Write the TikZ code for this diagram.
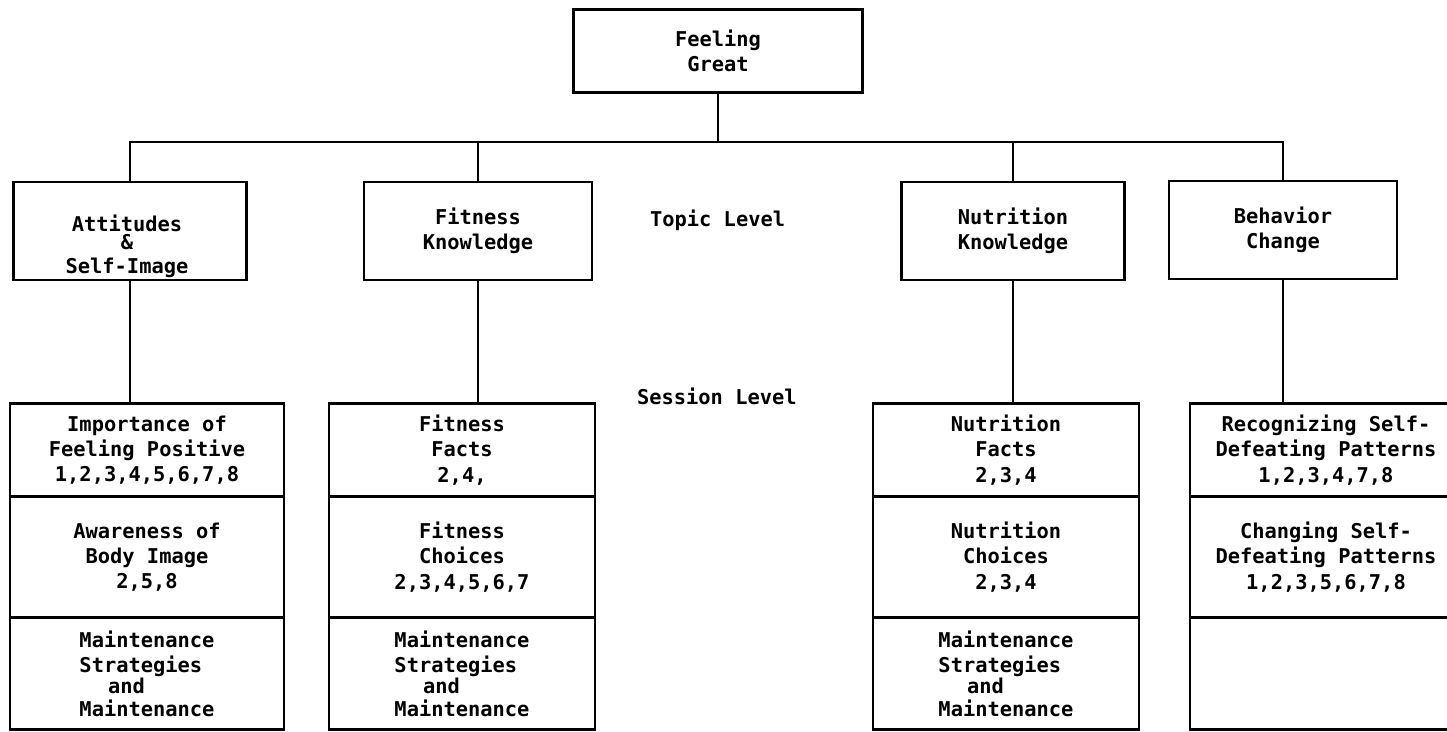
\documentclass[tikz,border=0pt]{standalone}
\usepackage{fontspec}
\setmonofont{DejaVu Sans Mono}
\usetikzlibrary{positioning}
\tikzset{every picture/.style={/utils/exec={\ttfamily\bfseries\fontsize{14.5}{18}\selectfont}}}
\tikzset{x=0.025cm, y=-0.025cm, % one unit is one pixel of the scan
  node distance=0pt,
  every node/.style={align=center},
  boxed/.style 2 args={draw, line width=1.8pt, outer sep=0pt, inner sep=2pt,
    minimum width=#1*0.025cm, minimum height=#2*0.025cm},
  link/.style={line width=1.8pt}}

\begin{document}
\begin{tikzpicture}
  \useasboundingbox (0,0) rectangle (1447,731);
  \clip (0,0) rectangle (1447,731);

  \node [boxed={289}{83}] (feel) at (718,51) {Feeling\\Great};

  % topic level
  \node [boxed={233}{98}] (att) at (130,231) {};
  \node (attText) at (127,246) {Attitudes\\[-5pt]\&\\[-1pt]Self-Image};
  \node [boxed={228}{98}] (fit) at (478,231) {Fitness\\Knowledge};
  \node [boxed={223}{98}] (nut) at (1013,231) {Nutrition\\Knowledge};
  \node [boxed={228}{98}] (beh) at (1283,230) {Behavior\\Change};
  \node [anchor=west] (topic) at (643,220) {Topic Level};

  % session level
  \node [anchor=west] (session) at (630,396) {Session Level};

  \node [boxed={274}{93}] (attA) at (147,450) {Importance of\\Feeling Positive\\1,2,3,4,5,6,7,8};
  \node [boxed={274}{121}, below=of attA] (attB) {Awareness of\\Body Image\\2,5,8};
  \node [boxed={274}{112}, below=of attB, align=left] (attC)
    {Maintenance\\Strategies\\[-3pt]\hspace*{1.4em}and\\[-2pt]Maintenance};

  \node [boxed={266}{93}] (fitA) at (462,450) {Fitness\\Facts\\2,4,};
  \node [boxed={266}{121}, below=of fitA] (fitB) {Fitness\\Choices\\2,3,4,5,6,7};
  \node [boxed={266}{112}, below=of fitB, align=left] (fitC)
    {Maintenance\\Strategies\\[-3pt]\hspace*{1.4em}and\\[-2pt]Maintenance};

  \node [boxed={266}{93}] (nutA) at (1006,450) {Nutrition\\Facts\\2,3,4};
  \node [boxed={266}{121}, below=of nutA] (nutB) {Nutrition\\Choices\\2,3,4};
  \node [boxed={266}{112}, below=of nutB, align=left] (nutC)
    {Maintenance\\Strategies\\[-3pt]\hspace*{1.4em}and\\[-2pt]Maintenance};

  \node [boxed={272}{93}] (behA) at (1326,450) {Recognizing Self-\\Defeating Patterns\\1,2,3,4,7,8};
  \node [boxed={272}{121}, below=of behA] (behB) {Changing Self-\\Defeating Patterns\\1,2,3,5,6,7,8};
  \node [boxed={272}{112}, below=of behB] (behC) {};

  % connectors
  \coordinate (bus) at (718,142);
  \draw [link] (feel.south) -- (bus);
  \draw [link] (att.north) |- (bus) -| (beh.north);
  \draw [link] (fit.north) -- (fit.north |- bus);
  \draw [link] (nut.north) -- (nut.north |- bus);
  \foreach \tp in {att,fit,nut,beh}
    \draw [link] (\tp.south) -- (\tp.south |- \tp A.north);
\end{tikzpicture}
\end{document}
